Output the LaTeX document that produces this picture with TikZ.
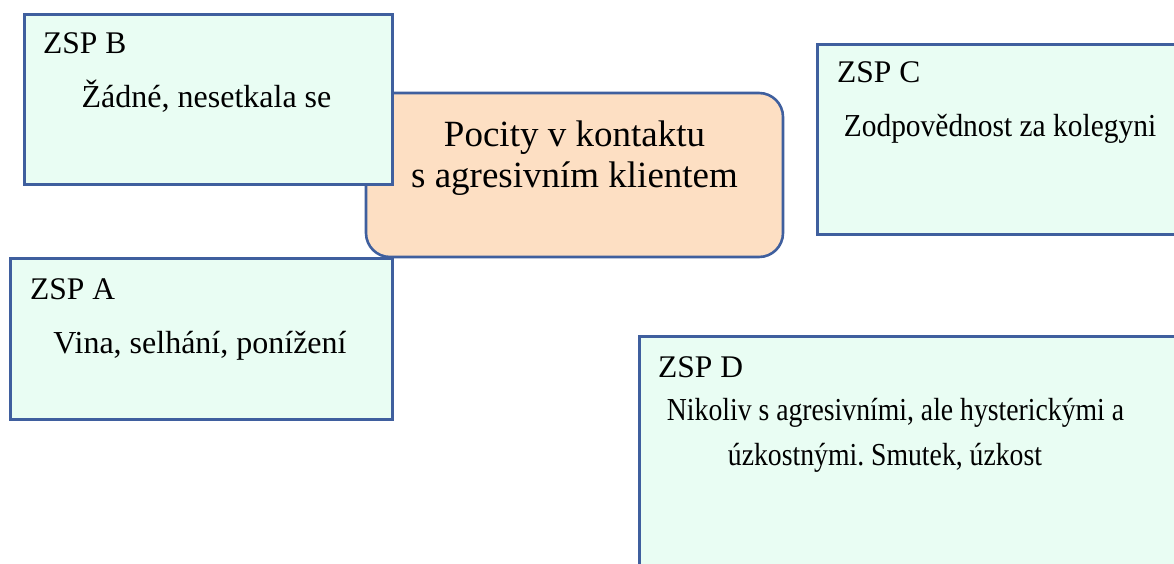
\documentclass[tikz,border=0pt]{standalone}
\usepackage{graphicx}
\usepackage{fontspec}
\setmainfont{Liberation Serif}
\definecolor{mint}{HTML}{E9FDF3}
\definecolor{peach}{HTML}{FDDFC3}
\definecolor{edgeblue}{HTML}{3F5F9E}
\frenchspacing
\begin{document}
\begin{tikzpicture}[x=1pt,y=-1pt,
  zspbox/.style={draw=edgeblue, line width=2.6pt, fill=mint, anchor=north west, inner sep=0pt},
  topicbox/.style={draw=edgeblue, line width=2.6pt, fill=peach, rounded corners=24pt, inner sep=0pt},
  lbl/.style={inner sep=0pt, anchor=base west, font=\fontsize{31.5}{38}\selectfont},
  body/.style={inner sep=0pt, anchor=base, font=\fontsize{32}{38}\selectfont},
  topic/.style={inner sep=0pt, anchor=base, font=\fontsize{37}{42}\selectfont}]
\clip (0,0) rectangle (1174,564);
\fill[white] (0,0) rectangle (1174,564);
% central topic
\node[topicbox, minimum width=417pt, minimum height=164pt] (T) at (574.5,175) {};
\node[topic] (t1) at (574.5,147) {Pocity v kontaktu};
\node[topic] (t2) at (574.5,188) {s agresivním klientem};
% ZSP B
\node[zspbox, minimum width=368pt, minimum height=170pt] (B) at (23,13) {};
\node[lbl] (bl) at (43,54) {ZSP B};
\node[body] (bt) at (206.5,108) {Žádné, nesetkala se};
% ZSP A
\node[zspbox, minimum width=382pt, minimum height=161pt] (A) at (9,257) {};
\node[lbl] (al) at (30,299) {ZSP A};
\node[body] (at) at (200,353) {Vina, selhání, ponížení};
% ZSP C
\node[zspbox, minimum width=400pt, minimum height=190pt] (C) at (816,43) {};
\node[lbl] (cl) at (837,83) {ZSP C};
\node[body] (ct) at (1000,137) {\scalebox{0.92}[1]{Zodpovědnost za kolegyni}};
% ZSP D
\node[zspbox, minimum width=600pt, minimum height=300pt] (D) at (638,335) {};
\node[lbl] (dl) at (658,377) {ZSP D};
\node[body] (dt1) at (895.5,420) {\scalebox{0.866}[1]{Nikoliv s agresivními, ale hysterickými a}};
\node[body] (dt2) at (885,465) {\scalebox{0.866}[1]{úzkostnými. Smutek, úzkost}};
\end{tikzpicture}
\end{document}
